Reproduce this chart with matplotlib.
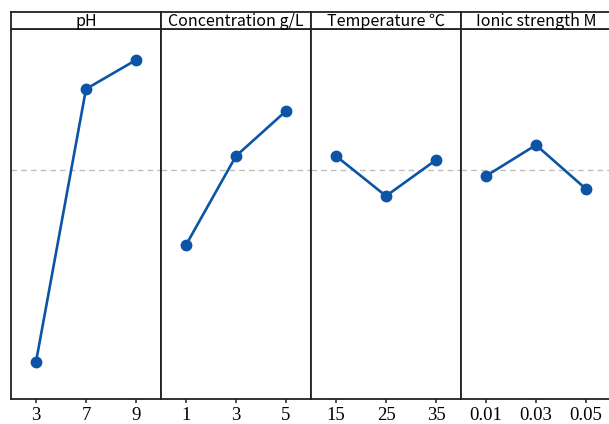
import matplotlib.pyplot as plt
import numpy as np

# main effects of each factor on the response
factors = ['pH', 'Concentration g/L', 'Temperature ℃', 'Ionic strength M']
levels = [['3', '7', '9'],
          ['1', '3', '5'],
          ['15', '25', '35'],
          ['0.01', '0.03', '0.05']]
ph_means = [3.7, 31.0, 33.9]
conc_means = [15.4, 24.3, 28.8]
temp_means = [24.3, 20.3, 23.9]
ionic_means = [22.3, 25.4, 21.0]
all_means = [ph_means, conc_means, temp_means, ionic_means]

grand_mean = np.mean(all_means)

W, H = 609, 424
fig = plt.figure(figsize=(W / 100, H / 100), dpi=100)

x0, pw = 11, 150
top, bottom, strip = 29, 399, 17
blue = '#0B54A6'

for i in range(4):
    left = (x0 + i * pw) / W
    ax = fig.add_axes([left, (H - bottom) / H, pw / W, (bottom - top) / H])
    xs = np.arange(len(levels[i]))
    ax.axhline(grand_mean, color='#BDBDBD', ls=(0, (4, 3)), lw=1.0, zorder=1)
    ax.plot(xs, all_means[i], color=blue, lw=1.9, marker='o', ms=7.5, zorder=3)
    ax.set_xlim(-0.5, 2.5)
    ax.set_ylim(0, 37)
    ax.set_xticks(xs)
    ax.set_xticklabels(levels[i], family='Liberation Serif', fontsize=13.5)
    ax.tick_params(axis='x', length=3, width=1.2, color='#333333', pad=2.5)
    ax.set_yticks([])
    for s in ax.spines.values():
        s.set_linewidth(1.3)
        s.set_color('#222222')

    # header strip with factor name
    hx = fig.add_axes([left, (H - top) / H, pw / W, strip / H])
    hx.set_xticks([])
    hx.set_yticks([])
    for s in hx.spines.values():
        s.set_linewidth(1.3)
        s.set_color('#222222')
    hx.text(0.5, 0.42, factors[i], ha='center', va='center', fontsize=11.5,
            family=['Noto Sans CJK SC', 'DejaVu Sans'], transform=hx.transAxes)

fig.savefig('out.png', dpi=100)
